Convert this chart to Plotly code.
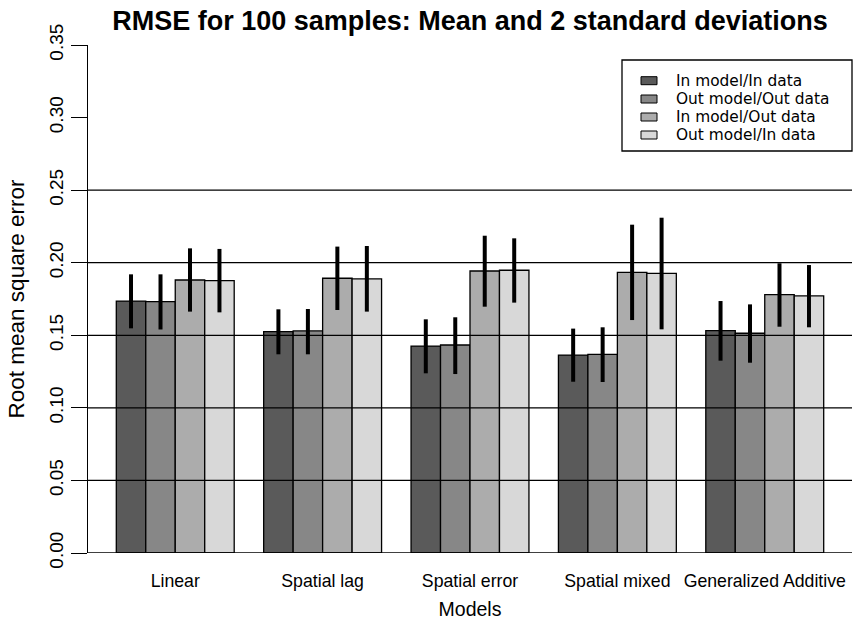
import plotly.graph_objects as go

models = ["Linear", "Spatial lag", "Spatial error", "Spatial mixed", "Generalized Additive"]
series_names = ["In model/In data", "Out model/Out data", "In model/Out data", "Out model/In data"]
colors = ["#5a5a5a", "#878787", "#acacac", "#d8d8d8"]

# mean RMSE
in_in = [0.1736, 0.1525, 0.1426, 0.1364, 0.1532]
out_out = [0.1732, 0.1530, 0.1433, 0.1369, 0.1514]
in_out = [0.1881, 0.1893, 0.1943, 0.1934, 0.1780]
out_in = [0.1876, 0.1888, 0.1948, 0.1927, 0.1771]

# upper and lower ends of the 2-sd bars
upper = [
    [0.1920, 0.1679, 0.1610, 0.1546, 0.1736],
    [0.1920, 0.1681, 0.1624, 0.1555, 0.1713],
    [0.2099, 0.2111, 0.2186, 0.2262, 0.1996],
    [0.2095, 0.2115, 0.2168, 0.2310, 0.1984],
]
lower = [
    [0.1548, 0.1369, 0.1238, 0.1180, 0.1325],
    [0.1540, 0.1369, 0.1233, 0.1178, 0.1311],
    [0.1663, 0.1674, 0.1697, 0.1605, 0.1559],
    [0.1658, 0.1663, 0.1725, 0.1541, 0.1555],
]

y_ticks = [0.00, 0.05, 0.10, 0.15, 0.20, 0.25, 0.30, 0.35]
grid_vals = [0.00, 0.05, 0.10, 0.15, 0.20, 0.25]

means = [in_in, out_out, in_out, out_in]
FONT = "Liberation Sans, Arial, Helvetica, sans-serif"
LEG_FONT = "DejaVu Sans, Liberation Sans, sans-serif"

# figure geometry (page body margin is removed by post_script)
W, H = 861, 625
L, R, T, B = 88, 9, 45, 72
PW, PH = W - L - R, H - T - B


def px(x):
    return (x - L) / PW


def py(y):
    return (H - B - y) / PH


fig = go.Figure()
for name, col, m, up, lo in zip(series_names, colors, means, upper, lower):
    fig.add_trace(go.Bar(
        x=models, y=m, name=name, showlegend=False,
        marker=dict(color=col, line=dict(color="black", width=1.3)),
        error_y=dict(type="data", symmetric=False,
                     array=[u - v for u, v in zip(up, m)],
                     arrayminus=[v - l for v, l in zip(m, lo)],
                     color="black", thickness=4, width=0),
    ))

shapes = [dict(type="line", xref="paper", yref="y", x0=0, x1=1, y0=g, y1=g,
               line=dict(color="black", width=1.3), layer="above") for g in grid_vals]

# legend drawn by hand (box, swatches, labels)
shapes.append(dict(type="rect", xref="paper", yref="paper",
                   x0=px(622), x1=px(852), y0=py(151), y1=py(60),
                   line=dict(color="black", width=1.3), fillcolor="white", layer="above"))
annotations = []
row_y = [80.7, 99, 117, 135]
for name, col, ry in zip(series_names, colors, row_y):
    shapes.append(dict(type="rect", xref="paper", yref="paper",
                       x0=px(641), x1=px(657), y0=py(ry + 4), y1=py(ry - 4),
                       line=dict(color="black", width=1), fillcolor=col, layer="above"))
    annotations.append(dict(text=name, xref="paper", yref="paper", x=px(675), y=py(ry),
                            xanchor="left", yanchor="middle", showarrow=False,
                            height=18, valign="middle", borderpad=0,
                            font=dict(size=15.4, family=LEG_FONT, color="black")))

fig.update_layout(
    width=W, height=H,
    margin=dict(l=L, r=R, t=T, b=B, autoexpand=False),
    paper_bgcolor="white", plot_bgcolor="white",
    barmode="group", bargap=0.2, bargroupgap=0,
    font=dict(family=FONT, color="black", size=18),
    title=dict(text="<b>RMSE for 100 samples: Mean and 2 standard deviations</b>",
               x=0.5, xref="paper", xanchor="center",
               y=1 - 21 / H, yref="container", yanchor="middle",
               font=dict(size=27, family=FONT, color="black")),
    xaxis=dict(range=[-0.592, 4.592], showline=False, showgrid=False, zeroline=False,
               ticks="outside", ticklen=12, tickcolor="rgba(0,0,0,0)",
               tickfont=dict(size=17.7),
               title=dict(text="Models", font=dict(size=19.5), standoff=12)),
    yaxis=dict(range=[0, 0.35], showline=True, linecolor="black", linewidth=1.3,
               showgrid=False, zeroline=False,
               tickvals=y_ticks, ticktext=[f"{v:.2f}" for v in y_ticks],
               ticks="outside", ticklen=16, tickwidth=1.3, tickcolor="black",
               tickangle=-90, tickfont=dict(size=19),
               title=dict(text="Root mean square error", font=dict(size=22.5), standoff=15)),
    shapes=shapes,
    annotations=annotations,
    showlegend=False,
)

fig.write_html("out.html", config={"displayModeBar": False},
               post_script="document.body.style.margin='0';")
